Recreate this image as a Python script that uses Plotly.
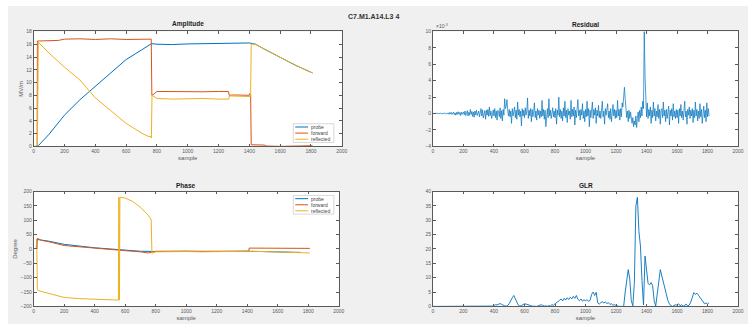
import plotly.graph_objects as go

W, H = 754, 331

# ---------------- data ----------------
# Amplitude (MV/m)
amp_probe_x = [20, 30, 100, 200, 300, 400, 500, 600, 700, 765, 800, 900, 1000, 1100, 1200, 1300, 1400, 1420, 1440, 1500, 1600, 1700, 1810]
amp_probe_y = [0.0, 0.1, 1.9, 4.9, 7.3, 9.4, 11.5, 13.6, 15.1, 16.1, 16.0, 15.95, 16.05, 16.1, 16.15, 16.15, 16.2, 16.1, 16.0, 15.2, 13.9, 12.7, 11.5]

amp_fwd_x = [0, 22, 24, 30, 100, 160, 200, 300, 400, 500, 600, 700, 763, 767, 775, 800, 900, 1000, 1100, 1200, 1265, 1269, 1300, 1400, 1404, 1408, 1412, 1500, 1510, 1600, 1700, 1780, 1810]
amp_fwd_y = [0.0, 0.0, 16.5, 16.5, 16.5, 16.6, 16.8, 16.85, 16.75, 16.85, 16.75, 16.8, 16.8, 8.0, 8.1, 8.6, 8.55, 8.5, 8.55, 8.6, 8.6, 8.0, 8.05, 8.0, 8.3, 8.2, 0.25, 0.2, 0.05, 0.0, 0.0, 0.1, 0.1]

amp_refl_x = [24, 30, 100, 200, 300, 360, 400, 500, 600, 700, 740, 760, 764, 768, 800, 900, 1000, 1100, 1200, 1267, 1270, 1300, 1400, 1408, 1412, 1440, 1500, 1600, 1700, 1810]
amp_refl_y = [0.0, 16.3, 14.6, 12.4, 10.4, 8.7, 7.6, 5.6, 3.6, 2.1, 1.6, 1.5, 1.3, 8.0, 7.5, 7.4, 7.5, 7.5, 7.4, 7.4, 7.9, 7.9, 7.8, 7.8, 16.0, 16.0, 15.2, 13.9, 12.7, 11.5]

# Phase (Degree)
ph_probe_x = [17, 20, 50, 100, 200, 300, 400, 500, 560, 600, 700, 800, 900, 1000, 1100, 1200, 1300, 1400, 1500, 1600, 1700, 1750]
ph_probe_y = [0, 33, 31, 27, 16, 9, 4, 0, -3, -5, -8, -9, -8, -8, -9, -8, -9, -8, -9, -10, -11, -12]

ph_fwd_x = [22, 24, 50, 100, 200, 300, 400, 500, 560, 600, 700, 750, 800, 900, 1000, 1100, 1200, 1300, 1400, 1410, 1412, 1500, 1600, 1700, 1810]
ph_fwd_y = [0, 37, 30, 25, 12, 7, 2, -1, -4, -6, -10, -14, -8, -8, -9, -10, -9, -8, -8, -8, 3, 3, 3, 2, 2]

ph_refl_x = [20, 24, 30, 100, 200, 300, 400, 500, 555, 558, 562, 565, 570, 600, 650, 700, 750, 770, 775, 800, 900, 1000, 1100, 1200, 1300, 1400, 1500, 1600, 1700, 1810]
ph_refl_y = [33, -143, -145, -155, -169, -173, -175, -177, -178, 180, -178, 180, 180, 177, 165, 145, 118, 103, -15, -10, -9, -9, -10, -9, -9, -8, -9, -10, -12, -14]

# Residual (x 1e-3), one value every 5 samples from 0 to 1810
res_step = 5
res_y = [
    0, 0.01, -0.01, 0.02, -0.02, 0.01, 0.03, -0.02, 0.02, -0.03, 0.04, -0.02, 0.03, -0.04, 0.02, 0.05, -0.03, 0.04, -0.05, 0.03,
    0.08, -0.1, 0.12, -0.06, 0.15, -0.12, 0.1, 0.18, -0.14, 0.08, -0.2, 0.15, -0.1, 0.22, -0.08, 0.12, -0.25, 0.18, -0.12, 0.1,
    0.2, -0.15, 0.3, -0.25, 0.1, 0.35, -0.3, 0.15, -0.2, 0.5, -0.1, 0.25, -0.35, 0.2, -0.45, 0.3, -0.15, 0.4, -0.25, 0.1,
    0.3, -0.4, 0.2, 0.6, -0.3, 0.45, -0.55, 0.1, 0.35, -0.7, 0.4, -0.2, 0.5, -0.35, 0.8, -0.25, 0.3, -0.6, 0.2, 0.45,
    -0.3, 0.6, -0.5, 0.3, -0.8, 0.4, 0.2, -0.4, 0.7, -0.6, 0.35, -0.9, 0.5, -0.2, 1.8, 0.6, 0.9, 1.7, 0.4, -0.3,
    0.5, -0.4, 0.3, -1.2, 0.6, -0.3, 0.2, 0.8, -0.5, 0.4, -0.7, 1.4, -0.2, 0.5, -0.4, 0.3, -1.5, 0.6, -0.3, 0.4,
    -0.5, 0.7, -0.2, 0.3, 1.9, -0.6, 0.4, -0.3, 0.6, -1.0, 0.5, -0.4, 0.2, 1.3, -0.5, 0.3, -0.8, 0.6, -0.2, 0.4,
    -0.6, 0.3, -0.4, 1.6, -0.3, 0.5, -0.7, 0.4, -1.6, 0.3, 0.6, -0.5, 1.8, -0.3, 0.4, -0.6, 0.2, 0.7, -0.4, 0.3,
    -0.5, 0.6, -1.3, 0.4, -0.2, 2.0, -0.4, 0.5, -0.6, 0.3, -0.9, 0.7, -0.3, 1.5, -0.5, 0.4, -1.1, 0.6, -0.2, 0.3,
    -0.7, 1.6, -0.4, 0.5, -0.3, 0.8, -1.4, 0.4, -0.5, 0.6, 1.7, -0.3, 0.4, -0.8, 0.5, -0.2, 1.2, -0.6, 0.3, -1.0,
    0.5, -0.4, 1.5, -0.3, 0.6, -1.6, 0.4, -0.5, 0.3, 1.4, -0.6, 0.5, -0.2, 0.7, -1.2, 0.4, -0.3, 1.0, -0.5, 0.3,
    -0.6, 0.5, 1.5, -0.4, 0.3, -1.3, 0.6, -0.2, 0.4, 1.2, -0.5, 0.3, -0.7, 0.6, -1.0, 0.4, 1.1, -0.3, 0.5, -0.6,
    0.4, -0.5, 1.6, -0.3, 0.5, -0.8, 0.6, -0.4, 1.3, 0.8, 1.6, 3.2, 1.8, 0.6, -0.5, 0.3, -1.0, 0.4, -0.6, 0.2,
    -0.8, -1.2, -0.5, -1.6, -0.9, -1.4, -0.3, -1.7, -0.6, 0.2, -1.0, 0.4, -0.5, 0.8, -0.3, 1.5, 0.6, 10.0, 4.6, 0.5,
    -0.4, 1.3, -0.6, 0.5, -0.3, 0.8, -1.2, 0.4, -0.5, 1.4, -0.3, 0.6, -0.9, 0.3, -0.4, 1.1, -0.6, 0.5, -1.3, 0.4,
    0.6, -0.5, 1.4, -0.3, 0.4, -1.0, 0.5, -0.6, 0.3, 0.9, -1.4, 0.4, -0.3, 0.6, -0.8, 1.2, -0.4, 0.3, -0.6, 0.5,
    -0.5, 0.4, -1.2, 0.6, -0.3, 1.1, -0.5, 0.3, -0.8, 0.5, 1.5, -0.4, 0.3, -1.3, 0.5, -0.2, 0.8, -0.6, 0.4, -0.3,
    0.6, -1.1, 0.4, -0.5, 1.4, -0.3, 0.5, -0.9, 0.3, -0.6, 1.2, -0.4, 0.5, -1.2, 0.3, 0.9, -0.5, 0.4, -1.0, 1.3,
    -0.4, 0.6, -0.3,
]

# GLR, one value every 10 samples from 0 to 1810
glr_step = 10
glr_y = [
    0, 0, 0, 0, 0, 0, 0, 0, 0, 0,
    0, 0, 0, 0, 0, 0, 0, 0, 0, 0,
    0, 0, 0, 0, 0, 0, 0, 0, 0, 0,
    0, 0, 0, 0, 0, 0, 0, 0, 0, 0.1,
    0.3, 0.6, 0.5, 0.9, 1.0, 0.7, 0.4, 0.2, 0.1, 0.3,
    1.0, 2.2, 3.0, 3.8, 2.9, 1.5, 0.4, 0.1, 0.3, 0.6,
    0.9, 0.8, 0.7, 0.5, 0.3, 0.1, 0.0, 0.1, 0.0, 0.2,
    0.5, 0.6, 0.3, 0.1, 0.2, 0.0, 0.3, 0.1, 0.6, 0.4,
    0.9, 1.2, 1.6, 2.1, 2.6, 1.9, 2.8, 2.2, 3.0, 2.4,
    3.2, 2.6, 3.5, 2.8, 3.8, 2.5, 2.0, 2.6, 1.8, 2.3,
    2.0, 2.3, 1.8, 2.1, 4.2, 5.0, 3.8, 4.9, 1.2, 0.8,
    1.3, 1.6, 1.2, 1.5, 1.0, 1.3, 0.7, 0.9, 0.4, 0.6,
    0.3, 0.1, 0.0, 0.0, 0.1, 0.0, 5.0, 8.5, 12.8, 9.5,
    2.0, 0.2, 8.0, 35.0, 38.0, 26.0, 21.0, 9.0, 0.5, 17.5,
    12.0, 8.0, 7.5, 8.3, 7.2, 2.0, 0.1, 3.5, 8.5, 12.8,
    10.5, 8.0, 6.0, 3.8, 2.0, 0.9, 0.2, 0.0, 0.3, 0.6,
    0.4, 0.9, 0.2, 0.6, 0.0, 0.3, 0.8, 0.1, 0.5, 1.5,
    3.5, 4.8, 4.2, 4.6, 3.9, 3.2, 2.4, 1.5, 0.9, 1.2,
    0.8, 1.3,
]

x_ticks = [0, 200, 400, 600, 800, 1000, 1200, 1400, 1600, 1800, 2000]
amp_ticks = [0, 2, 4, 6, 8, 10, 12, 14, 16, 18]
ph_ticks = [-200, -150, -100, -50, 0, 50, 100, 150, 200]
res_ticks = [-4, -2, 0, 2, 4, 6, 8, 10]
glr_ticks = [0, 5, 10, 15, 20, 25, 30, 35, 40]
series_names = ["probe", "forward", "reflected"]

# ---------------- style ----------------
C_PROBE, C_FWD, C_REFL = "#0072BD", "#D95319", "#EDB120"
AX = "#5a5a5a"
FONT = "Liberation Sans"


def px(x):
    return x / W


def py(y):
    return 1 - y / H


fig = go.Figure()
lw = 1.0
fig.add_trace(go.Scatter(x=amp_probe_x, y=amp_probe_y, mode="lines", line=dict(color=C_PROBE, width=lw), xaxis="x", yaxis="y"))
fig.add_trace(go.Scatter(x=amp_fwd_x, y=amp_fwd_y, mode="lines", line=dict(color=C_FWD, width=lw), xaxis="x", yaxis="y"))
fig.add_trace(go.Scatter(x=amp_refl_x, y=amp_refl_y, mode="lines", line=dict(color=C_REFL, width=lw), xaxis="x", yaxis="y"))

res_x = [i * res_step for i in range(len(res_y))]
fig.add_trace(go.Scatter(x=res_x, y=res_y, mode="lines", line=dict(color=C_PROBE, width=0.7), xaxis="x2", yaxis="y2"))

fig.add_trace(go.Scatter(x=ph_probe_x, y=ph_probe_y, mode="lines", line=dict(color=C_PROBE, width=lw), xaxis="x3", yaxis="y3"))
fig.add_trace(go.Scatter(x=ph_fwd_x, y=ph_fwd_y, mode="lines", line=dict(color=C_FWD, width=lw), xaxis="x3", yaxis="y3"))
fig.add_trace(go.Scatter(x=ph_refl_x, y=ph_refl_y, mode="lines", line=dict(color=C_REFL, width=lw), xaxis="x3", yaxis="y3"))

glr_x = [i * glr_step for i in range(len(glr_y))]
fig.add_trace(go.Scatter(x=glr_x, y=glr_y, mode="lines", line=dict(color=C_PROBE, width=0.9), xaxis="x4", yaxis="y4"))

common = dict(showline=True, linecolor=AX, linewidth=0.7, mirror="ticks", ticks="inside",
              ticklen=3, tickcolor=AX, tickwidth=0.7, showgrid=False, zeroline=False,
              tickfont=dict(family=FONT, size=5, color=AX), fixedrange=True)

# domains (pixels -> paper)
L1, R1 = 33, 344
L1b, R1b = 33, 341
L2, R2 = 436, 744
T1, B1 = 29, 146
T2, B2 = 192, 309

xt = dict(tickvals=x_ticks, ticktext=[str(v) for v in x_ticks], range=[0, 2000])
xtitle = dict(text="sample", font=dict(family=FONT, size=6, color=AX), standoff=2)

fig.update_layout(
    width=W, height=H, margin=dict(l=0, r=0, t=0, b=0),
    paper_bgcolor="white", plot_bgcolor="white", showlegend=False,
    xaxis=dict(domain=[px(L1), px(R1)], anchor="y", title=xtitle, **xt, **common),
    yaxis=dict(domain=[py(B1), py(T1)], anchor="x", range=[0, 18], tickvals=amp_ticks,
               title=dict(text="MV/m", font=dict(family=FONT, size=6, color=AX), standoff=2), **common),
    xaxis2=dict(domain=[px(L2), px(R2)], anchor="y2", title=xtitle, **xt, **common),
    yaxis2=dict(domain=[py(B1), py(T1)], anchor="x2", range=[-4, 10], tickvals=res_ticks, **common),
    xaxis3=dict(domain=[px(L1b), px(R1b)], anchor="y3", title=xtitle, **xt, **common),
    yaxis3=dict(domain=[py(B2), py(T2)], anchor="x3", range=[-200, 200], tickvals=ph_ticks,
                title=dict(text="Degree", font=dict(family=FONT, size=6, color=AX), standoff=2), **common),
    xaxis4=dict(domain=[px(L2), px(R2)], anchor="y4", title=xtitle, **xt, **common),
    yaxis4=dict(domain=[py(B2), py(T2)], anchor="x4", range=[0, 40], tickvals=glr_ticks, **common),
)

shapes = []
# grey figure background
shapes.append(dict(type="rect", xref="paper", yref="paper", x0=px(7), x1=1.0, y0=py(327), y1=py(3),
                   fillcolor="#f0f0f0", line=dict(width=0), layer="below"))
# white axes areas
for (l, r, t, b) in [(L1, R1, T1, B1), (L2, R2, T1, B1), (L1b, R1b, T2, B2), (L2, R2, T2, B2)]:
    shapes.append(dict(type="rect", xref="paper", yref="paper", x0=px(l), x1=px(r), y0=py(b), y1=py(t),
                       fillcolor="white", line=dict(width=0), layer="below"))

annotations = []
tf = dict(family=FONT, size=6.5, color="#222")
annotations.append(dict(text="<b>C7.M1.A14.L3 4</b>", x=px(376), y=py(14), xref="paper", yref="paper",
                        showarrow=False, font=dict(family=FONT, size=7, color="#333"), xanchor="center", yanchor="middle"))
for txt, l, r, t in [("Amplitude", L1, R1, T1), ("Residual", L2, R2, T1), ("Phase", L1b, R1b, T2), ("GLR", L2, R2, T2)]:
    annotations.append(dict(text="<b>%s</b>" % txt, x=px((l + r) / 2), y=py(t - 1), xref="paper", yref="paper",
                            showarrow=False, font=tf, xanchor="center", yanchor="bottom"))
annotations.append(dict(text="\u00d710<sup>-3</sup>", x=px(L2 + 1), y=py(T1 - 0.5), xref="paper", yref="paper",
                        showarrow=False, font=dict(family=FONT, size=5, color=AX), xanchor="left", yanchor="bottom"))

# manual legends
def legend(x0, x1, y0, y1):
    shapes.append(dict(type="rect", xref="paper", yref="paper", x0=px(x0), x1=px(x1), y0=py(y1), y1=py(y0),
                       fillcolor="white", line=dict(color="#bdbdbd", width=0.6), layer="above"))
    rows = [y0 + 3.3, y0 + 9.5, y0 + 15.7]
    for name, col, yy in zip(series_names, [C_PROBE, C_FWD, C_REFL], rows):
        shapes.append(dict(type="line", xref="paper", yref="paper", x0=px(x0 + 2), x1=px(x0 + 15), y0=py(yy), y1=py(yy),
                           line=dict(color=col, width=1), layer="above"))
        annotations.append(dict(text=name, x=px(x0 + 16), y=py(yy), xref="paper", yref="paper", showarrow=False,
                                font=dict(family=FONT, size=5, color="#444"), xanchor="left", yanchor="middle"))

legend(295, 336, 123, 142)
legend(295, 336, 196, 215)

fig.update_layout(shapes=shapes, annotations=annotations)
fig.write_html("out.html")
